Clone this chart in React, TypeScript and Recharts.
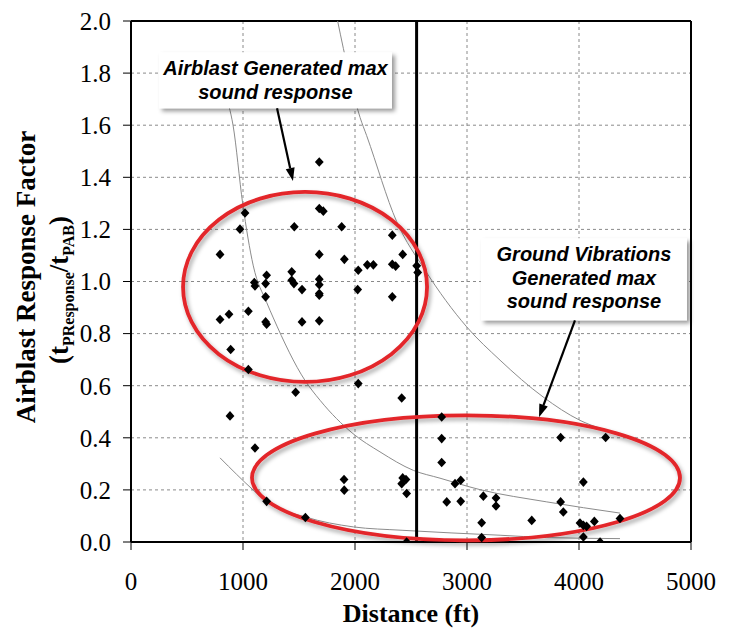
import React from 'react';
import {
  ComposedChart,
  Scatter,
  Line,
  XAxis,
  YAxis,
  CartesianGrid,
  ReferenceLine,
  ReferenceArea,
  ReferenceDot,
  Label,
} from 'recharts';

// ---------- measured data ----------
const distanceFt = [
  1681, 1018, 973, 1681, 1717, 1458, 1881, 2333, 795, 1681, 1905, 2426, 2029, 2110, 2164,
  2333, 2363, 2551, 2560, 1211, 1101, 1107, 1202, 1435, 1435, 1455, 1527, 1681, 1681, 1681,
  1681, 2024, 2333, 1202, 795, 875, 1048, 1202, 1211, 1527, 1681, 890, 1048, 2029, 1470,
  2417, 884, 1107, 1902, 1904, 2426, 2455, 2417, 2461, 1211, 1557, 2461, 2774, 2774, 2774,
  2893, 2944, 2819, 2944, 3146, 3259, 3259, 3131, 3131, 3578, 3836, 4238, 4039, 3836, 3860,
  4009, 4039, 4068, 4137, 4039, 4188, 4366,
];
const responseFactor = [
  1.459, 1.263, 1.201, 1.28, 1.27, 1.21, 1.21, 1.178, 1.104, 1.104, 1.085, 1.104, 1.043, 1.064, 1.064,
  1.066, 1.059, 1.06, 1.035, 1.024, 0.996, 0.983, 0.992, 1.037, 1.005, 0.992, 0.969, 1.009, 0.988, 0.954,
  0.947, 0.969, 0.941, 0.941, 0.854, 0.874, 0.886, 0.845, 0.836, 0.845, 0.849, 0.739, 0.662, 0.608, 0.575,
  0.553, 0.484, 0.361, 0.24, 0.199, 0.246, 0.24, 0.224, 0.186, 0.156, 0.094, 0.0, 0.48, 0.397, 0.305,
  0.224, 0.237, 0.154, 0.156, 0.176, 0.169, 0.138, 0.074, 0.017, 0.083, 0.401, 0.401, 0.23, 0.154, 0.115,
  0.073, 0.064, 0.06, 0.079, 0.019, 0.0, 0.09,
];

// grey trend curves
const curveMidX = [840, 911, 997, 1092, 1211, 1271, 1554, 1688, 1982, 2223, 2521, 2759, 3116, 3712, 4366];
const curveMidY = [1.72, 1.6, 1.3, 1.06, 0.92, 0.86, 0.62, 0.544, 0.416, 0.346, 0.275, 0.245, 0.201, 0.154, 0.111];
const curveUpperX = [1845, 1896, 2045, 2104, 2372, 2625, 2997, 3295, 3679, 4009, 4366];
const curveUpperY = [2.0, 1.895, 1.63, 1.56, 1.23, 1.044, 0.826, 0.698, 0.557, 0.467, 0.416];
const curveLowerX = [795, 1092, 1211, 1557, 1985, 2420, 3295, 3712, 4366];
const curveLowerY = [0.323, 0.199, 0.154, 0.096, 0.058, 0.045, 0.026, 0.017, 0.013];

const xTicks = [0, 1000, 2000, 3000, 4000, 5000];
const yTicks = [0, 0.2, 0.4, 0.6, 0.8, 1.0, 1.2, 1.4, 1.6, 1.8, 2.0];
const boundaryDistance = 2550;

// annotations (data coordinates)
const airblastText = ['Airblast Generated max', 'sound response'];
const groundText = ['Ground Vibrations', 'Generated max', 'sound response'];
const airblastBox = { x1: 250, x2: 2330, y1: 1.665, y2: 1.88 };
const groundBox = { x1: 3125, x2: 4964, y1: 0.851, y2: 1.166 };
const airblastEllipse = { x: 1554, y: 0.979 };
const groundEllipse = { x: 2991, y: 0.2465 };
const airblastArrow = [{ x: 1304, y: 1.665 }, { x: 1446, y: 1.386 }];
const groundArrow = [{ x: 3964, y: 0.851 }, { x: 3643, y: 0.479 }];

const pts = (xs: number[], ys: number[]) => xs.map((x, i) => ({ x, y: ys[i] }));
const scatterData = pts(distanceFt, responseFactor);
const midData = pts(curveMidX, curveMidY);
const upperData = pts(curveUpperX, curveUpperY);
const lowerData = pts(curveLowerX, curveLowerY);

const SERIF = "'Liberation Serif', 'Times New Roman', serif";
const SANS = "'Liberation Sans', Arial, sans-serif";

const Diamond = (p: any) => {
  const { cx, cy } = p;
  if (cx == null || cy == null) return null;
  return (
    <path
      d={`M${cx},${cy - 4.8} L${cx + 4.4},${cy} L${cx},${cy + 4.8} L${cx - 4.4},${cy} Z`}
      fill="#000"
    />
  );
};

const makeEllipse = (id: string, rx: number, ry: number) => (p: any) => {
  const { cx, cy } = p;
  return (
    <g>
      <defs>
        <filter id={id} x="-20%" y="-20%" width="140%" height="140%">
          <feDropShadow dx="2" dy="3" stdDeviation="2" floodColor="#000" floodOpacity="0.35" />
        </filter>
      </defs>
      <ellipse cx={cx} cy={cy} rx={rx} ry={ry} fill="none" stroke="#e3262b" strokeWidth={3.8} filter={`url(#${id})`} />
    </g>
  );
};

const makeBox = (id: string, lines: string[]) => (p: any) => {
  const { x, y, width, height } = p;
  return (
    <g>
      <defs>
        <filter id={id} x="-10%" y="-20%" width="125%" height="150%">
          <feDropShadow dx="3" dy="3" stdDeviation="2" floodColor="#000" floodOpacity="0.4" />
        </filter>
      </defs>
      <rect x={x} y={y} width={width} height={height} fill="#fff" filter={`url(#${id})`} />
      {lines.map((t, i) => (
        <text
          key={i}
          x={x + width / 2}
          y={y + 23 + i * 23.3}
          textAnchor="middle"
          fontFamily={SANS}
          fontStyle="italic"
          fontWeight="bold"
          fontSize={20}
          fill="#000"
        >
          {t}
        </text>
      ))}
    </g>
  );
};

const Arrow = (p: any) => {
  const { x1, y1, x2, y2 } = p;
  if ([x1, y1, x2, y2].some((v) => v == null || isNaN(v))) return null;
  const ang = Math.atan2(y2 - y1, x2 - x1);
  const len = 13;
  const half = 4.5;
  const bx = x2 - len * Math.cos(ang);
  const by = y2 - len * Math.sin(ang);
  const nx = -Math.sin(ang);
  const ny = Math.cos(ang);
  return (
    <g>
      <line x1={x1} y1={y1} x2={bx} y2={by} stroke="#000" strokeWidth={2.2} />
      <path
        d={`M${x2},${y2} L${bx + nx * half},${by + ny * half} L${bx - nx * half},${by - ny * half} Z`}
        fill="#000"
      />
    </g>
  );
};

const renderYLabel = () => (
  <g>
    <text
      transform="translate(35,277) rotate(-90)"
      textAnchor="middle"
      fontFamily={SERIF}
      fontWeight="bold"
      fontSize={27}
      fill="#000"
    >
      Airblast Response Factor
    </text>
    <text
      transform="translate(68,290) rotate(-90)"
      textAnchor="middle"
      fontFamily={SERIF}
      fontWeight="bold"
      fontSize={27}
      fill="#000"
    >
      (t
      <tspan fontSize={16} dy={6}>PResponse</tspan>
      <tspan dy={-6}>/t</tspan>
      <tspan fontSize={16} dy={6}>PAB</tspan>
      <tspan dy={-6}>)</tspan>
    </text>
  </g>
);

const renderXLabel = (p: any) => {
  const vb = p.viewBox || {};
  return (
    <text
      x={vb.x + vb.width / 2}
      y={vb.y + 80}
      textAnchor="middle"
      fontFamily={SERIF}
      fontWeight="bold"
      fontSize={26}
      fill="#000"
    >
      Distance (ft)
    </text>
  );
};

export default function App() {
  return (
    <div style={{ position: 'absolute', left: 0, top: 0, background: '#fff' }}>
      <ComposedChart width={735} height={629} margin={{ top: 21, right: 44, bottom: 0, left: 0 }}>
        <CartesianGrid stroke="#8a8a8a" strokeDasharray="3 3" strokeWidth={1} />
        <XAxis
          type="number"
          dataKey="x"
          domain={[0, 5000]}
          ticks={xTicks}
          interval={0}
          height={87}
          allowDataOverflow
          axisLine={{ stroke: '#000', strokeWidth: 2 }}
          tickLine={{ stroke: '#000', strokeWidth: 1 }}
          tickSize={8}
          tickMargin={22}
          tick={{ fill: '#000', fontFamily: SERIF, fontSize: 25 }}
        >
          <Label content={renderXLabel} />
        </XAxis>
        <YAxis
          type="number"
          dataKey="y"
          domain={[0, 2]}
          ticks={yTicks}
          interval={0}
          width={131}
          allowDataOverflow
          axisLine={{ stroke: '#000', strokeWidth: 2 }}
          tickLine={{ stroke: '#000', strokeWidth: 1 }}
          tickSize={8}
          tickMargin={12}
          tickFormatter={(v: number) => v.toFixed(1)}
          tick={{ fill: '#000', fontFamily: SERIF, fontSize: 25 }}
        >
          <Label content={renderYLabel} />
        </YAxis>

        <ReferenceLine y={2} stroke="#000" strokeWidth={2} />
        <ReferenceLine x={5000} stroke="#000" strokeWidth={2} />

        <Line data={midData} dataKey="y" type="monotone" stroke="#8c8c8c" strokeWidth={1} dot={false} activeDot={false} isAnimationActive={false} />
        <Line data={upperData} dataKey="y" type="monotone" stroke="#8c8c8c" strokeWidth={1} dot={false} activeDot={false} isAnimationActive={false} />
        <Line data={lowerData} dataKey="y" type="monotone" stroke="#8c8c8c" strokeWidth={1} dot={false} activeDot={false} isAnimationActive={false} />

        <ReferenceLine x={boundaryDistance} stroke="#000" strokeWidth={3} />

        <ReferenceDot x={airblastEllipse.x} y={airblastEllipse.y} r={1} shape={makeEllipse('shA', 122, 95)} zIndex={550} />
        <ReferenceDot x={groundEllipse.x} y={groundEllipse.y} r={1} shape={makeEllipse('shG', 214, 62.5)} zIndex={550} />

        <Scatter data={scatterData} dataKey="y" shape={Diamond} isAnimationActive={false} />

        <ReferenceArea {...airblastBox} shape={makeBox('bxA', airblastText)} zIndex={700} />
        <ReferenceArea {...groundBox} shape={makeBox('bxG', groundText)} zIndex={700} />
        <ReferenceLine segment={airblastArrow} shape={Arrow} zIndex={710} />
        <ReferenceLine segment={groundArrow} shape={Arrow} zIndex={710} />
      </ComposedChart>
    </div>
  );
}
